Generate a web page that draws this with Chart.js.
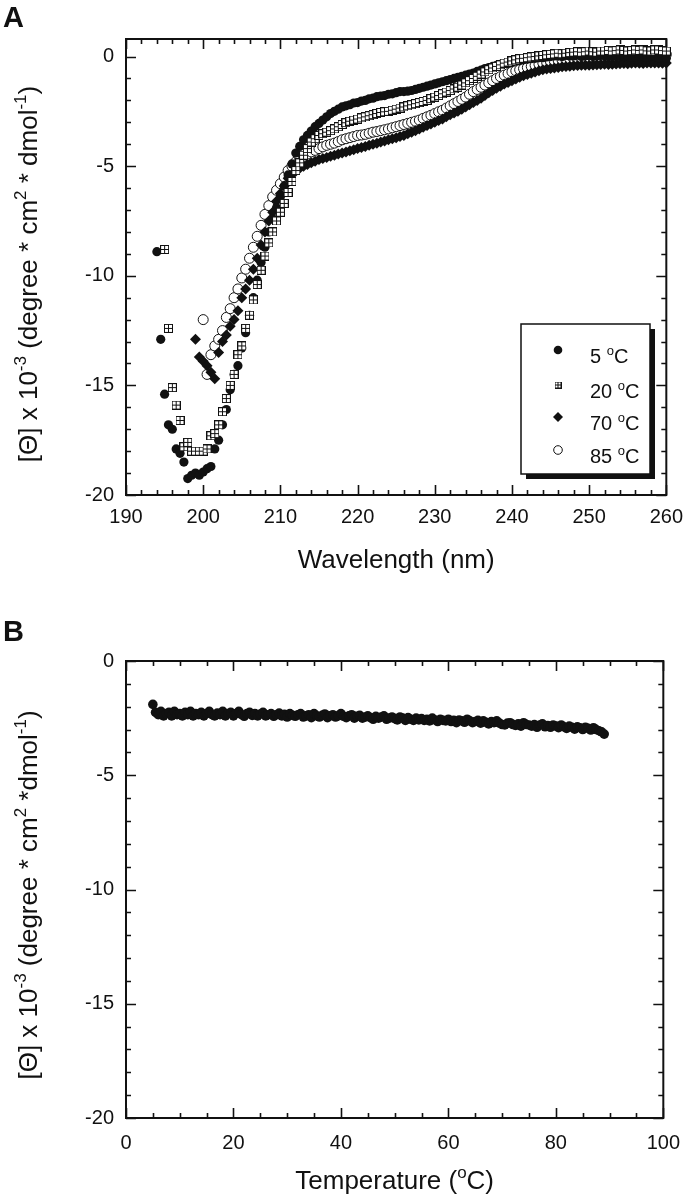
<!DOCTYPE html>
<html>
<head>
<meta charset="utf-8">
<script src="https://cdn.jsdelivr.net/npm/chart.js@4.4.1/dist/chart.umd.min.js"></script>
<style>
  html, body { margin: 0; padding: 0; background: #fff; }
  canvas { position: absolute; left: 0; }
  #chartA { top: 0; }
  #chartB { top: 600px; }
</style>
</head>
<body>
<canvas id="chartA" width="693" height="600"></canvas>
<canvas id="chartB" width="693" height="599"></canvas>
<script>
// ==============================
// DATA (panel A: CD spectra)
// ==============================
const wavelengths = [
  194, 194.5, 195, 195.5, 196, 196.5, 197, 197.5, 198, 198.5, 199, 199.5,
  200, 200.5, 201, 201.5, 202, 202.5, 203, 203.5, 204, 204.5, 205, 205.5,
  206, 206.5, 207, 207.5, 208, 208.5, 209, 209.5, 210, 210.5, 211, 211.5, 212,
  212.5, 213, 213.5, 214, 214.5, 215, 215.5, 216, 216.5, 217,
  217.5, 218, 218.5, 219, 219.5, 220, 220.5, 221, 221.5, 222,
  222.5, 223, 223.5, 224, 224.5, 225, 225.5, 226, 226.5, 227,
  227.5, 228, 228.5, 229, 229.5, 230, 230.5, 231, 231.5, 232,
  232.5, 233, 233.5, 234, 234.5, 235, 235.5, 236, 236.5, 237,
  237.5, 238, 238.5, 239, 239.5, 240, 240.5, 241, 241.5, 242,
  242.5, 243, 243.5, 244, 244.5, 245, 245.5, 246, 246.5, 247,
  247.5, 248, 248.5, 249, 249.5, 250, 250.5, 251, 251.5, 252,
  252.5, 253, 253.5, 254, 254.5, 255, 255.5, 256, 256.5, 257,
  257.5, 258, 258.5, 259, 259.5, 260
];

const theta5C = [
  -8.9, -12.9, -15.4, -16.8, -17.0, -17.9, -18.1, -18.5, -19.25, -19.1, -19.0, -19.1,
  -18.95, -18.8, -18.7, -17.9, -17.5, -16.8, -16.1, -15.2, -14.5, -14.1, -13.3, -12.6,
  -11.8, -11.0, -10.2, -9.4, -8.7, -8.0, -7.4, -6.9, -6.4, -5.9, -5.4, -4.9, -4.4,
  -4.1, -3.8, -3.6, -3.4, -3.2, -3.05, -2.9, -2.75, -2.6, -2.5,
  -2.4, -2.3, -2.25, -2.2, -2.12, -2.1, -2.03, -2.0, -1.93, -1.9,
  -1.83, -1.8, -1.78, -1.72, -1.7, -1.65, -1.6, -1.6, -1.58, -1.55,
  -1.5, -1.45, -1.4, -1.35, -1.3, -1.25, -1.2, -1.15, -1.1, -1.05,
  -1.0, -0.95, -0.9, -0.85, -0.8, -0.75, -0.68, -0.62, -0.55, -0.5,
  -0.45, -0.4, -0.36, -0.32, -0.28, -0.25, -0.2, -0.18, -0.15, -0.12,
  -0.1, -0.08, -0.05, -0.05, -0.02, 0.0, 0.03, 0.02, 0.0, 0.05,
  0.02, 0.03, 0.06, 0.0, 0.03, 0.05, 0.0, 0.02, 0.05, 0.04,
  0.0, 0.0, 0.03, 0.05, 0.0, 0.02, -0.03, -0.02, 0.02, 0.0,
  -0.04, 0.03, 0.0, -0.05, -0.02, -0.08
];

const theta20C = [
  null, null, -8.8, -12.4, -15.1, -15.9, -16.6, -17.8, -17.6, -18.0, -18.0, -18.0,
  -18.0, -17.9, -17.3, -17.2, -16.8, -16.2, -15.6, -15.0, -14.5, -13.6, -13.2, -12.4,
  -11.8, -11.1, -10.4, -9.75, -9.1, -8.5, -8.0, -7.5, -7.1, -6.7, -6.2, -5.7, -5.2,
  -4.85, -4.5, -4.2, -3.9, -3.75, -3.6, -3.52, -3.45, -3.38, -3.3,
  -3.2, -3.1, -3.02, -2.95, -2.9, -2.85, -2.8, -2.75, -2.7, -2.65,
  -2.6, -2.55, -2.52, -2.5, -2.45, -2.4, -2.35, -2.3, -2.25, -2.2,
  -2.15, -2.1, -2.05, -2.0, -1.92, -1.85, -1.78, -1.7, -1.62, -1.55,
  -1.48, -1.4, -1.3, -1.2, -1.1, -1.0, -0.9, -0.8, -0.7, -0.6,
  -0.52, -0.45, -0.38, -0.3, -0.25, -0.2, -0.15, -0.1, -0.08, -0.05,
  -0.02, 0.0, 0.03, 0.05, 0.08, 0.1, 0.12, 0.15, 0.13, 0.15,
  0.18, 0.2, 0.22, 0.2, 0.22, 0.25, 0.22, 0.2, 0.25, 0.25,
  0.28, 0.25, 0.27, 0.3, 0.28, 0.25, 0.27, 0.3, 0.28, 0.3,
  0.26, 0.25, 0.3, 0.3, 0.27, 0.25
];

const theta70C = [
  null, null, null, null, null, null, null, null, null, null, -12.9, -13.7,
  -13.9, -14.1, -14.4, -14.7, -13.5, -13.0, -12.7, -12.3, -12.0, -11.6, -11.0, -10.6,
  -10.2, -9.7, -9.2, -8.6, -8.0, -7.5, -7.1, -6.6, -6.25, -5.9, -5.55, -5.4, -5.2,
  -5.1, -5.0, -4.92, -4.85, -4.78, -4.7, -4.65, -4.6, -4.55, -4.5,
  -4.45, -4.4, -4.35, -4.3, -4.25, -4.2, -4.15, -4.1, -4.05, -4.0,
  -3.95, -3.9, -3.85, -3.8, -3.75, -3.7, -3.65, -3.6, -3.52, -3.45,
  -3.38, -3.3, -3.22, -3.15, -3.08, -3.0, -2.92, -2.85, -2.75, -2.65,
  -2.58, -2.5, -2.4, -2.3, -2.2, -2.1, -2.0, -1.9, -1.78, -1.65,
  -1.55, -1.45, -1.35, -1.25, -1.18, -1.1, -1.02, -0.95, -0.88, -0.82,
  -0.76, -0.7, -0.65, -0.6, -0.57, -0.55, -0.52, -0.5, -0.47, -0.45,
  -0.44, -0.42, -0.41, -0.4, -0.4, -0.4, -0.39, -0.38, -0.36, -0.35,
  -0.36, -0.35, -0.34, -0.33, -0.32, -0.33, -0.31, -0.3, -0.31, -0.32,
  -0.3, -0.3, -0.29, -0.3, -0.31, -0.3
];

const theta85C = [
  null, null, null, null, null, null, null, null, null, null, null, null,
  -12.0, -14.5, -13.6, -13.2, -12.9, -12.5, -11.9, -11.5, -11.0, -10.6, -10.1, -9.7,
  -9.2, -8.7, -8.2, -7.7, -7.2, -6.8, -6.4, -6.1, -5.8, -5.5, -5.2, -5.0, -4.8,
  -4.68, -4.55, -4.45, -4.35, -4.28, -4.2, -4.12, -4.05, -4.0, -3.95,
  -3.88, -3.8, -3.75, -3.7, -3.65, -3.6, -3.58, -3.55, -3.5, -3.45,
  -3.42, -3.38, -3.34, -3.3, -3.25, -3.2, -3.15, -3.1, -3.05, -3.0,
  -2.95, -2.9, -2.82, -2.75, -2.68, -2.6, -2.52, -2.45, -2.35, -2.25,
  -2.15, -2.05, -1.95, -1.85, -1.72, -1.6, -1.5, -1.4, -1.3, -1.2,
  -1.1, -1.0, -0.92, -0.85, -0.78, -0.7, -0.65, -0.6, -0.55, -0.5,
  -0.45, -0.4, -0.35, -0.3, -0.28, -0.25, -0.22, -0.2, -0.18, -0.15,
  -0.12, -0.1, -0.12, -0.1, -0.07, -0.05, -0.06, -0.05, -0.02, 0.0,
  0.02, 0.0, -0.02, 0.0, 0.03, 0.05, 0.03, 0.05, 0.08, 0.1,
  0.07, 0.05, 0.08, 0.1, 0.12, 0.1
];

// ==============================
// DATA (panel B: thermal melt)
// ==============================
const temperatures = [
  5, 5.5, 6, 6.5, 7, 7.5, 8, 8.5, 9, 9.5,
  10, 10.5, 11, 11.5, 12, 12.5, 13, 13.5, 14, 14.5,
  15, 15.5, 16, 16.5, 17, 17.5, 18, 18.5, 19, 19.5,
  20, 20.5, 21, 21.5, 22, 22.5, 23, 23.5, 24, 24.5,
  25, 25.5, 26, 26.5, 27, 27.5, 28, 28.5, 29, 29.5,
  30, 30.5, 31, 31.5, 32, 32.5, 33, 33.5, 34, 34.5,
  35, 35.5, 36, 36.5, 37, 37.5, 38, 38.5, 39, 39.5,
  40, 40.5, 41, 41.5, 42, 42.5, 43, 43.5, 44, 44.5,
  45, 45.5, 46, 46.5, 47, 47.5, 48, 48.5, 49, 49.5,
  50, 50.5, 51, 51.5, 52, 52.5, 53, 53.5, 54, 54.5,
  55, 55.5, 56, 56.5, 57, 57.5, 58, 58.5, 59, 59.5,
  60, 60.5, 61, 61.5, 62, 62.5, 63, 63.5, 64, 64.5,
  65, 65.5, 66, 66.5, 67, 67.5, 68, 68.5, 69, 69.5,
  70, 70.5, 71, 71.5, 72, 72.5, 73, 73.5, 74, 74.5,
  75, 75.5, 76, 76.5, 77, 77.5, 78, 78.5, 79, 79.5,
  80, 80.5, 81, 81.5, 82, 82.5, 83, 83.5, 84, 84.5,
  85, 85.5, 86, 86.5, 87, 87.5, 88, 88.5, 89
];

const thetaMelt = [
  -1.9, -2.25, -2.35, -2.2, -2.4, -2.3, -2.25, -2.4, -2.2, -2.35,
  -2.3, -2.4, -2.25, -2.35, -2.2, -2.4, -2.3, -2.35, -2.25, -2.4,
  -2.3, -2.2, -2.35, -2.4, -2.28, -2.35, -2.2, -2.4, -2.3, -2.25,
  -2.4, -2.3, -2.2, -2.35, -2.42, -2.3, -2.25, -2.38, -2.3, -2.4,
  -2.32, -2.25, -2.4, -2.35, -2.3, -2.42, -2.35, -2.28, -2.4, -2.33,
  -2.45, -2.3, -2.38, -2.42, -2.35, -2.3, -2.45, -2.4, -2.35, -2.48,
  -2.3, -2.4, -2.45, -2.38, -2.32, -2.48, -2.4, -2.35, -2.45, -2.4,
  -2.3, -2.42, -2.48, -2.4, -2.35, -2.5, -2.42, -2.38, -2.5, -2.45,
  -2.4, -2.48, -2.55, -2.42, -2.5, -2.45, -2.4, -2.55, -2.5, -2.45,
  -2.52, -2.58, -2.45, -2.5, -2.6, -2.48, -2.55, -2.6, -2.5, -2.58,
  -2.52, -2.6, -2.55, -2.62, -2.5, -2.58, -2.65, -2.55, -2.6, -2.62,
  -2.55, -2.65, -2.6, -2.7, -2.58, -2.62, -2.68, -2.55, -2.62, -2.7,
  -2.65, -2.6, -2.72, -2.62, -2.68, -2.75, -2.65, -2.7, -2.62, -2.72,
  -2.78, -2.8, -2.72, -2.7, -2.78, -2.82, -2.75, -2.85, -2.7, -2.78,
  -2.8, -2.85, -2.78, -2.9, -2.8, -2.75, -2.88, -2.82, -2.9, -2.8,
  -2.85, -2.92, -2.8, -2.88, -2.95, -2.85, -2.9, -2.98, -2.88, -2.92,
  -3.0, -2.9, -2.95, -3.02, -2.92, -3.0, -3.05, -3.1, -3.2
];

// tick labels
const wavelengthTicks = [190, 200, 210, 220, 230, 240, 250, 260];
const temperatureTicks = [0, 20, 40, 60, 80, 100];
const thetaTicks = [-20, -15, -10, -5, 0];

// ==============================
// HELPERS
// ==============================
const FONT = '"Liberation Sans", Arial, Helvetica, sans-serif';
const INK = '#111';
const TITLE_SIZE = 26;

function toPoints(xs, ys) {
  return xs.map((x, i) => ({ x: x, y: ys[i] })).filter(p => p.y !== null);
}

// white square with a cross (the 20 °C marker)
function makeBoxCross(size) {
  const c = document.createElement('canvas');
  c.width = size;
  c.height = size;
  const g = c.getContext('2d');
  g.fillStyle = '#fff';
  g.fillRect(0, 0, size, size);
  g.strokeStyle = INK;
  g.lineWidth = 1;
  g.strokeRect(0.5, 0.5, size - 1, size - 1);
  const m = Math.floor(size / 2) + 0.5;
  g.beginPath();
  g.moveTo(m, 0); g.lineTo(m, size);
  g.moveTo(0, m); g.lineTo(size, m);
  g.stroke();
  return c;
}

// text with superscript parts: [{t:'10'}, {t:'-3', sup:true}]
function drawRich(ctx, parts, x, y, size, align) {
  const supSize = Math.round(size * 0.65);
  let total = 0;
  parts.forEach(p => {
    ctx.font = (p.sup ? supSize : size) + 'px ' + FONT;
    total += ctx.measureText(p.t).width;
  });
  let cx = align === 'center' ? x - total / 2 : x;
  ctx.textAlign = 'left';
  ctx.textBaseline = 'alphabetic';
  parts.forEach(p => {
    ctx.font = (p.sup ? supSize : size) + 'px ' + FONT;
    ctx.fillText(p.t, cx, p.sup ? y - size * 0.42 : y);
    cx += ctx.measureText(p.t).width;
  });
}

// box frame with inward major/minor ticks on all four sides,
// plus axis titles and the panel letter
function framePlugin(cfg) {
  return {
    id: 'frame',
    beforeDatasetsDraw(chart) {
      const { ctx, chartArea: a, scales } = chart;
      const xs = scales.x, ys = scales.y;
      ctx.save();
      ctx.strokeStyle = INK;
      ctx.lineWidth = 1.6;
      ctx.beginPath();
      for (let v = xs.min; v <= xs.max + 1e-9; v += cfg.xMinor) {
        const px = Math.round(xs.getPixelForValue(v)) + 0.5;
        const len = Math.abs(v / cfg.xMajor - Math.round(v / cfg.xMajor)) < 1e-6 ? 10 : 5;
        ctx.moveTo(px, a.bottom); ctx.lineTo(px, a.bottom - len);
        ctx.moveTo(px, a.top); ctx.lineTo(px, a.top + len);
      }
      for (let v = ys.min; v <= ys.max + 1e-9; v += cfg.yMinor) {
        const py = Math.round(ys.getPixelForValue(v)) + 0.5;
        const len = Math.abs(v / cfg.yMajor - Math.round(v / cfg.yMajor)) < 1e-6 ? 10 : 5;
        ctx.moveTo(a.left, py); ctx.lineTo(a.left + len, py);
        ctx.moveTo(a.right, py); ctx.lineTo(a.right - len, py);
      }
      ctx.stroke();
      ctx.lineWidth = 2;
      ctx.strokeRect(a.left, a.top, a.right - a.left, a.bottom - a.top);

      ctx.fillStyle = INK;
      // x axis title
      drawRich(ctx, cfg.xTitle, (a.left + a.right) / 2, cfg.xTitleY, TITLE_SIZE, 'center');
      // y axis title, rotated
      ctx.translate(cfg.yTitleX, cfg.yTitleY);
      ctx.rotate(-Math.PI / 2);
      drawRich(ctx, cfg.yTitle, 0, 0, TITLE_SIZE, 'center');
      ctx.restore();

      ctx.save();
      ctx.fillStyle = INK;
      ctx.font = 'bold 29px ' + FONT;
      ctx.textAlign = 'left';
      ctx.textBaseline = 'alphabetic';
      ctx.fillText(cfg.letter, 3, cfg.letterY);
      ctx.restore();
    }
  };
}

// legend box with drop shadow, drawn from the datasets' own styles
const legendPlugin = {
  id: 'boxLegend',
  afterDatasetsDraw(chart) {
    const ctx = chart.ctx;
    const box = { x: 521, y: 324, w: 129, h: 150 };
    ctx.save();
    ctx.fillStyle = INK;
    ctx.fillRect(box.x + 5, box.y + 5, box.w, box.h);
    ctx.fillStyle = '#fff';
    ctx.fillRect(box.x, box.y, box.w, box.h);
    ctx.strokeStyle = INK;
    ctx.lineWidth = 1.5;
    ctx.strokeRect(box.x, box.y, box.w, box.h);

    const rowY = [350, 385, 417, 450];
    chart.data.datasets.forEach(ds => {
      const my = rowY[ds.legendRow];
      const mx = 558;
      if (ds.pointStyle instanceof HTMLCanvasElement) {
        ctx.drawImage(makeBoxCross(7), mx - 3.5, my - 3.5);
      } else {
        ctx.beginPath();
        if (ds.pointStyle === 'rectRot') {
          ctx.moveTo(mx, my - 5); ctx.lineTo(mx + 5, my);
          ctx.lineTo(mx, my + 5); ctx.lineTo(mx - 5, my);
          ctx.closePath();
        } else {
          ctx.arc(mx, my, 4.3, 0, Math.PI * 2);
        }
        ctx.fillStyle = ds.backgroundColor;
        ctx.fill();
        if (ds.borderWidth) {
          ctx.lineWidth = 1;
          ctx.strokeStyle = INK;
          ctx.stroke();
        }
      }
      ctx.fillStyle = INK;
      drawRich(ctx, [{ t: ds.label.replace(' °C', '') + ' ' }, { t: 'o', sup: true }, { t: 'C' }],
        590, my + 13, 20, 'left');
    });
    ctx.restore();
  }
};

const tickFont = { family: FONT, size: 20 };

// ==============================
// PANEL A
// ==============================
const boxCross = makeBoxCross(9);

new Chart(document.getElementById('chartA'), {
  type: 'scatter',
  data: {
    datasets: [
      {
        label: '20 °C', legendRow: 1, order: 0,
        data: toPoints(wavelengths, theta20C),
        pointStyle: boxCross, pointRadius: 4.5,
        backgroundColor: '#fff', borderColor: INK, borderWidth: 1, clip: false
      },
      {
        label: '5 °C', legendRow: 0, order: 1,
        data: toPoints(wavelengths, theta5C),
        pointStyle: 'circle', pointRadius: 4.6,
        backgroundColor: INK, borderColor: INK, borderWidth: 0, clip: false
      },
      {
        label: '70 °C', legendRow: 2, order: 2,
        data: toPoints(wavelengths, theta70C),
        pointStyle: 'rectRot', pointRadius: 5.5,
        backgroundColor: INK, borderColor: INK, borderWidth: 0, clip: false
      },
      {
        label: '85 °C', legendRow: 3, order: 3,
        data: toPoints(wavelengths, theta85C),
        pointStyle: 'circle', pointRadius: 5,
        backgroundColor: '#fff', borderColor: INK, borderWidth: 1, clip: false
      }
    ]
  },
  options: {
    responsive: false,
    animation: false,
    layout: { padding: { top: 39, right: 20, left: 0, bottom: 0 } },
    plugins: { legend: { display: false }, tooltip: { enabled: false } },
    scales: {
      x: {
        type: 'linear', min: 190, max: 260,
        grid: { display: false, drawTicks: false },
        border: { display: false },
        ticks: { font: tickFont, color: INK, padding: 10, autoSkip: false, maxRotation: 0 },
        afterBuildTicks: s => { s.ticks = wavelengthTicks.map(v => ({ value: v })); },
        afterFit: s => { s.height = 105; }
      },
      y: {
        type: 'linear', min: -20, max: 0.8,
        grid: { display: false, drawTicks: false },
        border: { display: false },
        ticks: { font: tickFont, color: INK, padding: 12, autoSkip: false },
        afterBuildTicks: s => { s.ticks = thetaTicks.map(v => ({ value: v })); },
        afterFit: s => { s.width = 126; }
      }
    }
  },
  plugins: [
    framePlugin({
      xMinor: 2, xMajor: 10, yMinor: 1, yMajor: 5,
      xTitle: [{ t: 'Wavelength (nm)' }], xTitleY: 568,
      yTitle: [{ t: '[Θ] x 10' }, { t: '-3', sup: true }, { t: ' (degree * cm' }, { t: '2', sup: true },
               { t: ' * dmol' }, { t: '-1', sup: true }, { t: ')' }],
      yTitleX: 37, yTitleY: 274,
      letter: 'A', letterY: 27
    }),
    legendPlugin
  ]
});

// ==============================
// PANEL B
// ==============================
new Chart(document.getElementById('chartB'), {
  type: 'scatter',
  data: {
    datasets: [{
      label: 'melt',
      data: toPoints(temperatures, thetaMelt),
      pointStyle: 'circle', pointRadius: 4.8,
      backgroundColor: INK, borderColor: INK, borderWidth: 0, clip: false
    }]
  },
  options: {
    responsive: false,
    animation: false,
    layout: { padding: { top: 61, right: 20, left: 0, bottom: 0 } },
    plugins: { legend: { display: false }, tooltip: { enabled: false } },
    scales: {
      x: {
        type: 'linear', min: 0, max: 100,
        grid: { display: false, drawTicks: false },
        border: { display: false },
        ticks: { font: tickFont, color: INK, padding: 13, autoSkip: false, maxRotation: 0 },
        afterBuildTicks: s => { s.ticks = temperatureTicks.map(v => ({ value: v })); },
        afterFit: s => { s.height = 81; }
      },
      y: {
        type: 'linear', min: -20, max: 0,
        grid: { display: false, drawTicks: false },
        border: { display: false },
        ticks: { font: tickFont, color: INK, padding: 12, autoSkip: false },
        afterBuildTicks: s => { s.ticks = thetaTicks.map(v => ({ value: v })); },
        afterFit: s => { s.width = 126; }
      }
    }
  },
  plugins: [
    framePlugin({
      xMinor: 5, xMajor: 20, yMinor: 1, yMajor: 5,
      xTitle: [{ t: 'Temperature (' }, { t: 'o', sup: true }, { t: 'C)' }], xTitleY: 589,
      yTitle: [{ t: '[Θ] x 10' }, { t: '-3', sup: true }, { t: ' (degree * cm' }, { t: '2', sup: true },
               { t: ' *dmol' }, { t: '-1', sup: true }, { t: ')' }],
      yTitleX: 37, yTitleY: 295,
      letter: 'B', letterY: 41
    })
  ]
});
</script>
</body>
</html>
